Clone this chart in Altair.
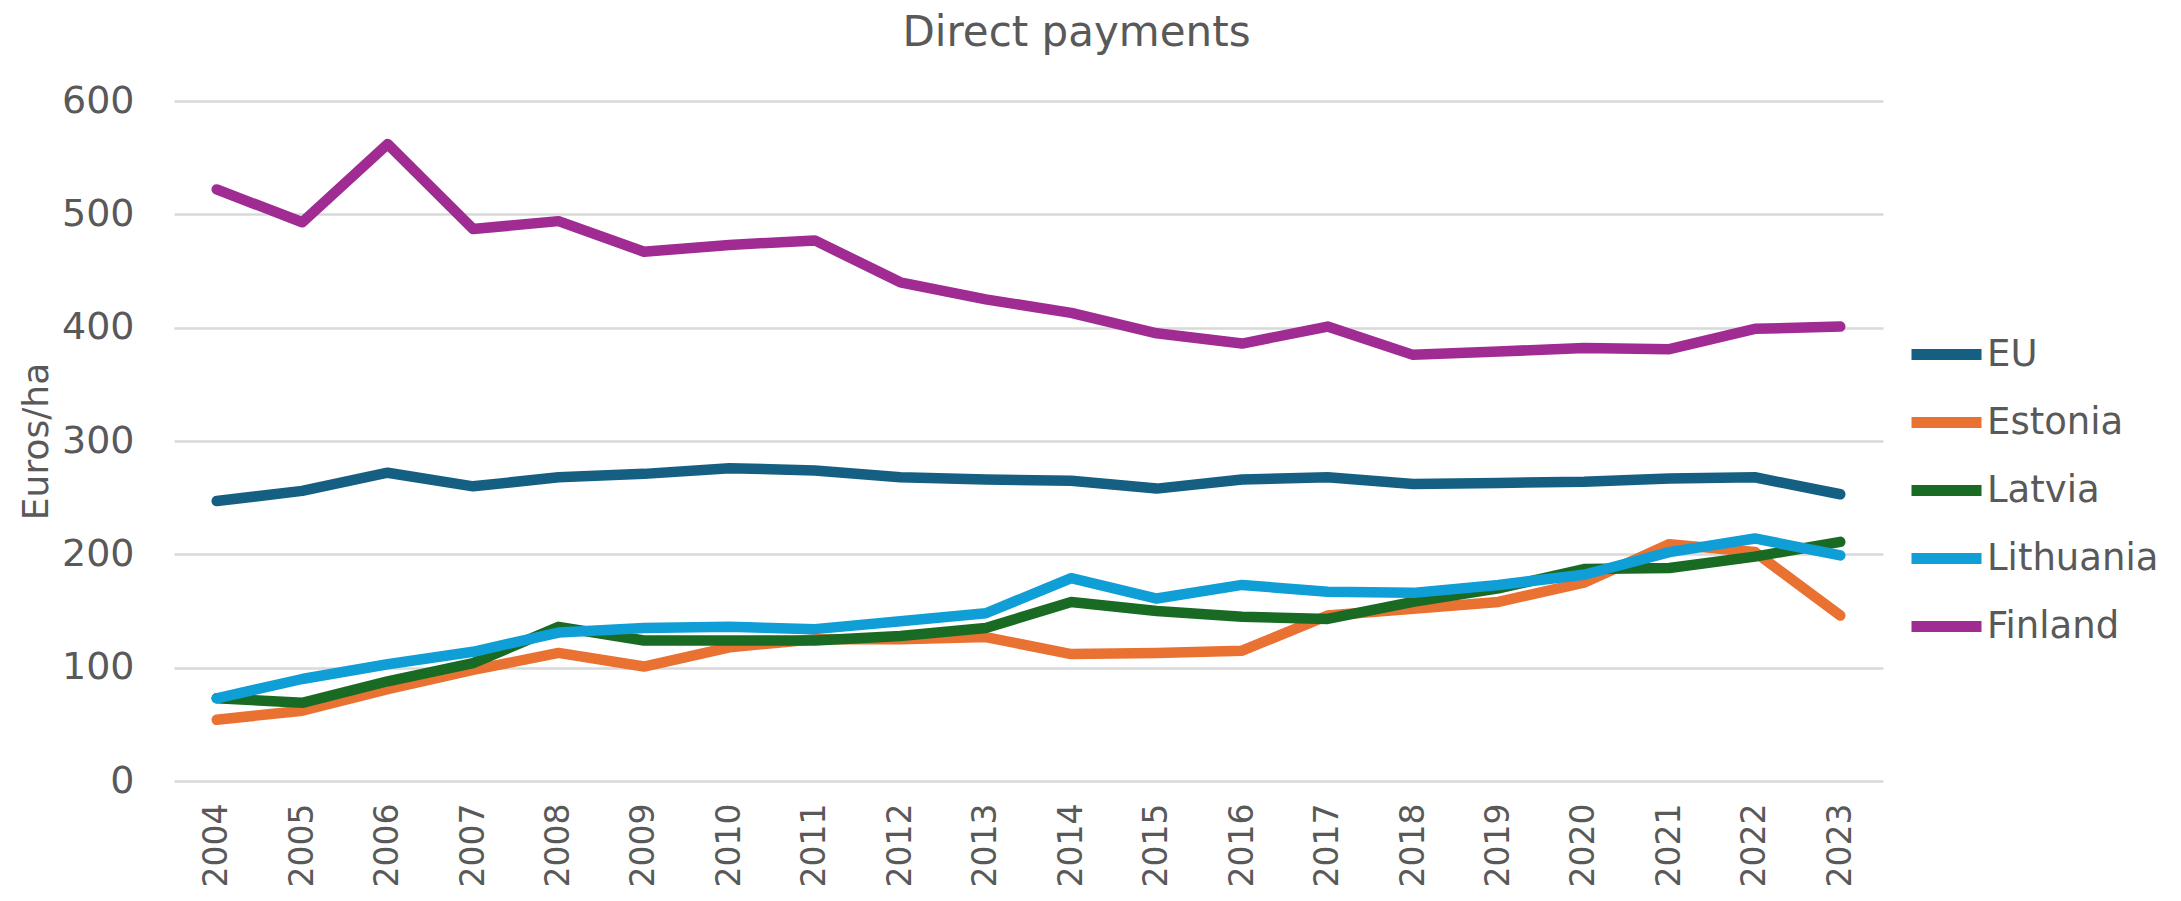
import altair as alt
import pandas as pd

years = [str(y) for y in range(2004, 2024)]
series_names = ["EU", "Estonia", "Latvia", "Lithuania", "Finland"]
series_colors = ["#156082", "#E97132", "#196B24", "#0F9ED5", "#A02B93"]

eu = [247, 256, 272, 260, 268, 271, 276, 274, 268, 266, 265, 258, 266, 268, 262, 263, 264, 267, 268, 253]
estonia = [54, 62, 81, 98, 113, 101, 118, 125, 125, 127, 112, 113, 115, 146, 152, 158, 175, 209, 202, 146]
latvia = [73, 69, 88, 104, 136, 124, 124, 124, 128, 135, 158, 150, 145, 143, 158, 170, 187, 188, 198, 211]
lithuania = [73, 90, 103, 114, 131, 135, 136, 134, 141, 148, 179, 161, 173, 167, 166, 173, 182, 202, 214, 199]
finland = [522, 493, 562, 487, 494, 467, 473, 477, 440, 425, 413, 395, 386, 401, 376, 379, 382, 381, 399, 401]

values = [eu, estonia, latvia, lithuania, finland]
rows = []
for i, name in enumerate(series_names):
    for y, v in zip(years, values[i]):
        rows.append({"Year": y, "Value": v, "Series": name, "order": i})
df = pd.DataFrame(rows)

FONT = "DejaVu Sans"
GREY = "#595959"

chart = alt.Chart(df).mark_line(
    strokeWidth=10.5, strokeCap="round", strokeJoin="round"
).encode(
    x=alt.X("Year:O", sort=years,
            scale=alt.Scale(type="point", padding=0.5),
            axis=alt.Axis(title=None, labelAngle=270, labelPadding=22,
                          ticks=False, domain=False, grid=False,
                          labelFont=FONT, labelFontSize=33, labelColor=GREY)),
    y=alt.Y("Value:Q", scale=alt.Scale(domain=[0, 600], nice=False),
            axis=alt.Axis(title="Euros/ha", values=[0, 100, 200, 300, 400, 500, 600],
                          ticks=False, domain=False, grid=True,
                          gridColor="#D9D9D9", gridWidth=2.5,
                          labelPadding=40, labelFont=FONT, labelFontSize=38,
                          labelColor=GREY, titleFont=FONT, titleFontSize=36,
                          titleFontWeight="normal", titleColor=GREY,
                          titleAngle=270, titleAlign="center", titleBaseline="middle",
                          titleX=-138, titleY=340)),
    color=alt.Color("Series:N", sort=series_names,
                    scale=alt.Scale(domain=series_names, range=series_colors),
                    legend=alt.Legend(title=None, orient="none", legendX=1732, legendY=213,
                                      symbolType="stroke", symbolSize=4900,
                                      symbolStrokeWidth=11, rowPadding=5,
                                      labelOffset=0, padding=0, labelLimit=0,
                                      labelFont=FONT, labelFontSize=37, labelColor=GREY)),
    order=alt.Order("order:Q"),
).properties(
    width=1709, height=680,
    title=alt.TitleParams("Direct payments", font=FONT, fontSize=42, fontWeight="normal",
                          color=GREY, anchor="middle", frame="group", dx=48, offset=27),
    autosize=alt.AutoSizeParams(type="none"),
    padding={"left": 166, "top": 93, "right": 290, "bottom": 112},
).configure_view(stroke=None)

chart.save("out.html", embed_options={"renderer": "svg", "actions": False})
